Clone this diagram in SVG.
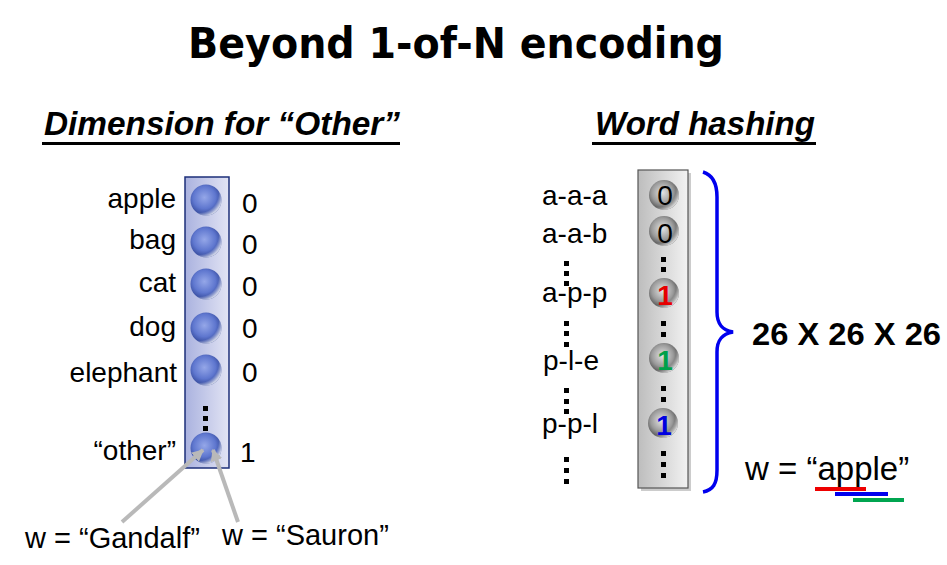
<svg xmlns="http://www.w3.org/2000/svg" width="947" height="565" viewBox="0 0 947 565">
  <style>
    text { font-family: "Liberation Sans", Arial, sans-serif; fill: #000; }
    .title { font-family: "DejaVu Sans", Verdana, sans-serif; font-weight: bold; font-size: 42px; }
    .head { font-weight: bold; font-style: italic; font-size: 33px; }
    .lbl { font-size: 28px; }
    .big { font-size: 33px; }
    .bit { font-size: 28px; text-anchor: middle; }
    .bitb { font-size: 28px; font-weight: bold; text-anchor: middle; }
    .dot { fill: #000; }
    .ptr { stroke: #b9b9b9; stroke-width: 4; fill: none; }
  </style>
  <defs>
    <linearGradient id="colBlue" x1="0" y1="0" x2="1" y2="0">
      <stop offset="0" stop-color="#aab2df"/>
      <stop offset="1" stop-color="#e2e4f4"/>
    </linearGradient>
    <linearGradient id="colGray" x1="0" y1="0" x2="1" y2="0">
      <stop offset="0" stop-color="#bdbdbd"/>
      <stop offset="1" stop-color="#f2f2f2"/>
    </linearGradient>
    <radialGradient id="ballBlue" cx="0.45" cy="0.42" r="0.6">
      <stop offset="0" stop-color="#95a7e8"/>
      <stop offset="0.6" stop-color="#5f77cf"/>
      <stop offset="1" stop-color="#2e4394"/>
    </radialGradient>
    <radialGradient id="ballGray" cx="0.45" cy="0.42" r="0.6">
      <stop offset="0" stop-color="#e4e4e4"/>
      <stop offset="0.6" stop-color="#9a9a9a"/>
      <stop offset="1" stop-color="#4a4a4a"/>
    </radialGradient>
    <radialGradient id="rim" cx="0.3" cy="0.3" r="0.75">
      <stop offset="0.8" stop-color="#fff" stop-opacity="0"/>
      <stop offset="1" stop-color="#fff" stop-opacity="0.75"/>
    </radialGradient>
    <marker id="head" viewBox="0 0 10 10" refX="9" refY="5" markerWidth="12" markerHeight="12" markerUnits="userSpaceOnUse" orient="auto">
      <path d="M0,0 L10,5 L0,10 z" fill="#b9b9b9"/>
    </marker>
  </defs>

  <rect width="947" height="565" fill="#fff"/>

  <!-- heading -->
  <text class="title" x="188" y="58" textLength="536" lengthAdjust="spacingAndGlyphs">Beyond 1-of-N encoding</text>

  <!-- left panel: vocabulary with an extra "other" dimension -->
  <g id="left-heading">
    <text class="head" x="44" y="135" textLength="356" lengthAdjust="spacingAndGlyphs">Dimension for “Other”</text>
    <rect x="42" y="142" width="358" height="3" fill="#000"/>
  </g>

  <g id="left-column">
    <rect x="185" y="177" width="44" height="291" fill="url(#colBlue)" stroke="#1c2f7a" stroke-width="1.5"/>
    <g fill="url(#ballBlue)">
      <circle cx="206" cy="200" r="15.5"/>
      <circle cx="206" cy="242" r="15.5"/>
      <circle cx="206" cy="284" r="15.5"/>
      <circle cx="206" cy="328" r="15.5"/>
      <circle cx="206" cy="370" r="15.5"/>
      <circle cx="206" cy="448" r="15.5"/>
    </g>
    <g fill="url(#rim)">
      <circle cx="206" cy="200" r="15.5"/>
      <circle cx="206" cy="242" r="15.5"/>
      <circle cx="206" cy="284" r="15.5"/>
      <circle cx="206" cy="328" r="15.5"/>
      <circle cx="206" cy="370" r="15.5"/>
      <circle cx="206" cy="448" r="15.5"/>
    </g>
    <rect class="dot" x="203" y="406" width="5" height="5"/>
    <rect class="dot" x="203" y="416" width="5" height="5"/>
    <rect class="dot" x="203" y="426" width="5" height="5"/>
  </g>

  <g id="left-words" class="lbl" text-anchor="end">
    <text x="176" y="208">apple</text>
    <text x="176" y="249">bag</text>
    <text x="176" y="292">cat</text>
    <text x="176" y="336">dog</text>
    <text x="177" y="382">elephant</text>
    <text x="176" y="460">“other”</text>
  </g>

  <g id="left-values" class="lbl">
    <text x="242" y="213">0</text>
    <text x="242" y="254">0</text>
    <text x="242" y="296">0</text>
    <text x="242" y="338">0</text>
    <text x="242" y="382">0</text>
    <text x="240" y="462">1</text>
  </g>

  <g id="unknown-words">
    <text x="25" y="548" font-size="29">w = “Gandalf”</text>
    <text x="222" y="545" font-size="29">w = “Sauron”</text>
  </g>

  <g id="connectors">
    <line class="ptr" x1="122" y1="522" x2="203" y2="450" marker-end="url(#head)"/>
    <line class="ptr" x1="238" y1="522" x2="213" y2="450" marker-end="url(#head)"/>
  </g>

  <!-- right panel: letter-trigram hashing -->
  <g id="right-heading">
    <text class="head" x="595" y="135" textLength="220" lengthAdjust="spacingAndGlyphs">Word hashing</text>
    <rect x="592" y="142" width="224" height="3" fill="#000"/>
  </g>

  <g id="trigram-labels" class="lbl">
    <text x="542" y="205">a-a-a</text>
    <text x="542" y="243">a-a-b</text>
    <text x="542" y="302">a-p-p</text>
    <text x="543" y="370">p-l-e</text>
    <text x="542" y="433">p-p-l</text>
  </g>
  <g id="trigram-dots" class="dot">
    <rect x="564" y="261" width="5" height="5"/>
    <rect x="564" y="271" width="5" height="5"/>
    <rect x="564" y="281" width="5" height="5"/>
    <rect x="564" y="321" width="5" height="5"/>
    <rect x="564" y="331" width="5" height="5"/>
    <rect x="564" y="342" width="5" height="5"/>
    <rect x="564" y="388" width="5" height="5"/>
    <rect x="564" y="399" width="5" height="5"/>
    <rect x="564" y="409" width="5" height="5"/>
    <rect x="564" y="457" width="5" height="5"/>
    <rect x="564" y="468" width="5" height="5"/>
    <rect x="564" y="479" width="5" height="5"/>
  </g>

  <g id="right-column">
    <rect x="641" y="173" width="50" height="318" fill="#9a9a9a" opacity="0.5"/>
    <rect x="638" y="170" width="50" height="318" fill="url(#colGray)" stroke="#555" stroke-width="1.2"/>
    <g class="dot">
      <rect x="661" y="257" width="5" height="5"/>
      <rect x="661" y="267" width="5" height="5"/>
      <rect x="661" y="321" width="5" height="5"/>
      <rect x="661" y="332" width="5" height="5"/>
      <rect x="661" y="386" width="5" height="5"/>
      <rect x="661" y="397" width="5" height="5"/>
      <rect x="661" y="451" width="5" height="5"/>
      <rect x="661" y="462" width="5" height="5"/>
      <rect x="661" y="473" width="5" height="5"/>
    </g>
    <g fill="url(#ballGray)">
      <circle cx="664" cy="195" r="15"/>
      <circle cx="664" cy="231" r="15"/>
      <circle cx="664" cy="293" r="15"/>
      <circle cx="664" cy="358" r="15"/>
      <circle cx="663" cy="423" r="15"/>
    </g>
    <g fill="url(#rim)">
      <circle cx="664" cy="195" r="15"/>
      <circle cx="664" cy="231" r="15"/>
      <circle cx="664" cy="293" r="15"/>
      <circle cx="664" cy="358" r="15"/>
      <circle cx="663" cy="423" r="15"/>
    </g>
    <text class="bit" x="665" y="205">0</text>
    <text class="bit" x="665" y="243">0</text>
    <text class="bitb" x="665" y="305" style="fill:#e60000">1</text>
    <text class="bitb" x="665" y="370" style="fill:#00a04a">1</text>
    <text class="bitb" x="664" y="435" style="fill:#0000e0">1</text>
  </g>

  <g id="brace">
    <path d="M703,172 C713,175 717,183 717,197 L717,312 C717,324 722,330 733,332 C722,334 717,340 717,352 L717,470 C717,484 713,490 703,492" fill="none" stroke="#0000ee" stroke-width="3.5"/>
  </g>

  <text id="dimension" x="752" y="345" font-size="31" font-weight="bold" textLength="189" lengthAdjust="spacingAndGlyphs">26 X 26 X 26</text>

  <g id="example-word">
    <text class="big" x="745" y="480">w = “apple”</text>
    <rect x="815" y="487" width="51" height="4" fill="#ee0000"/>
    <rect x="835" y="492" width="53" height="4" fill="#0000ee"/>
    <rect x="853" y="498" width="51" height="4" fill="#00a550"/>
  </g>
</svg>
